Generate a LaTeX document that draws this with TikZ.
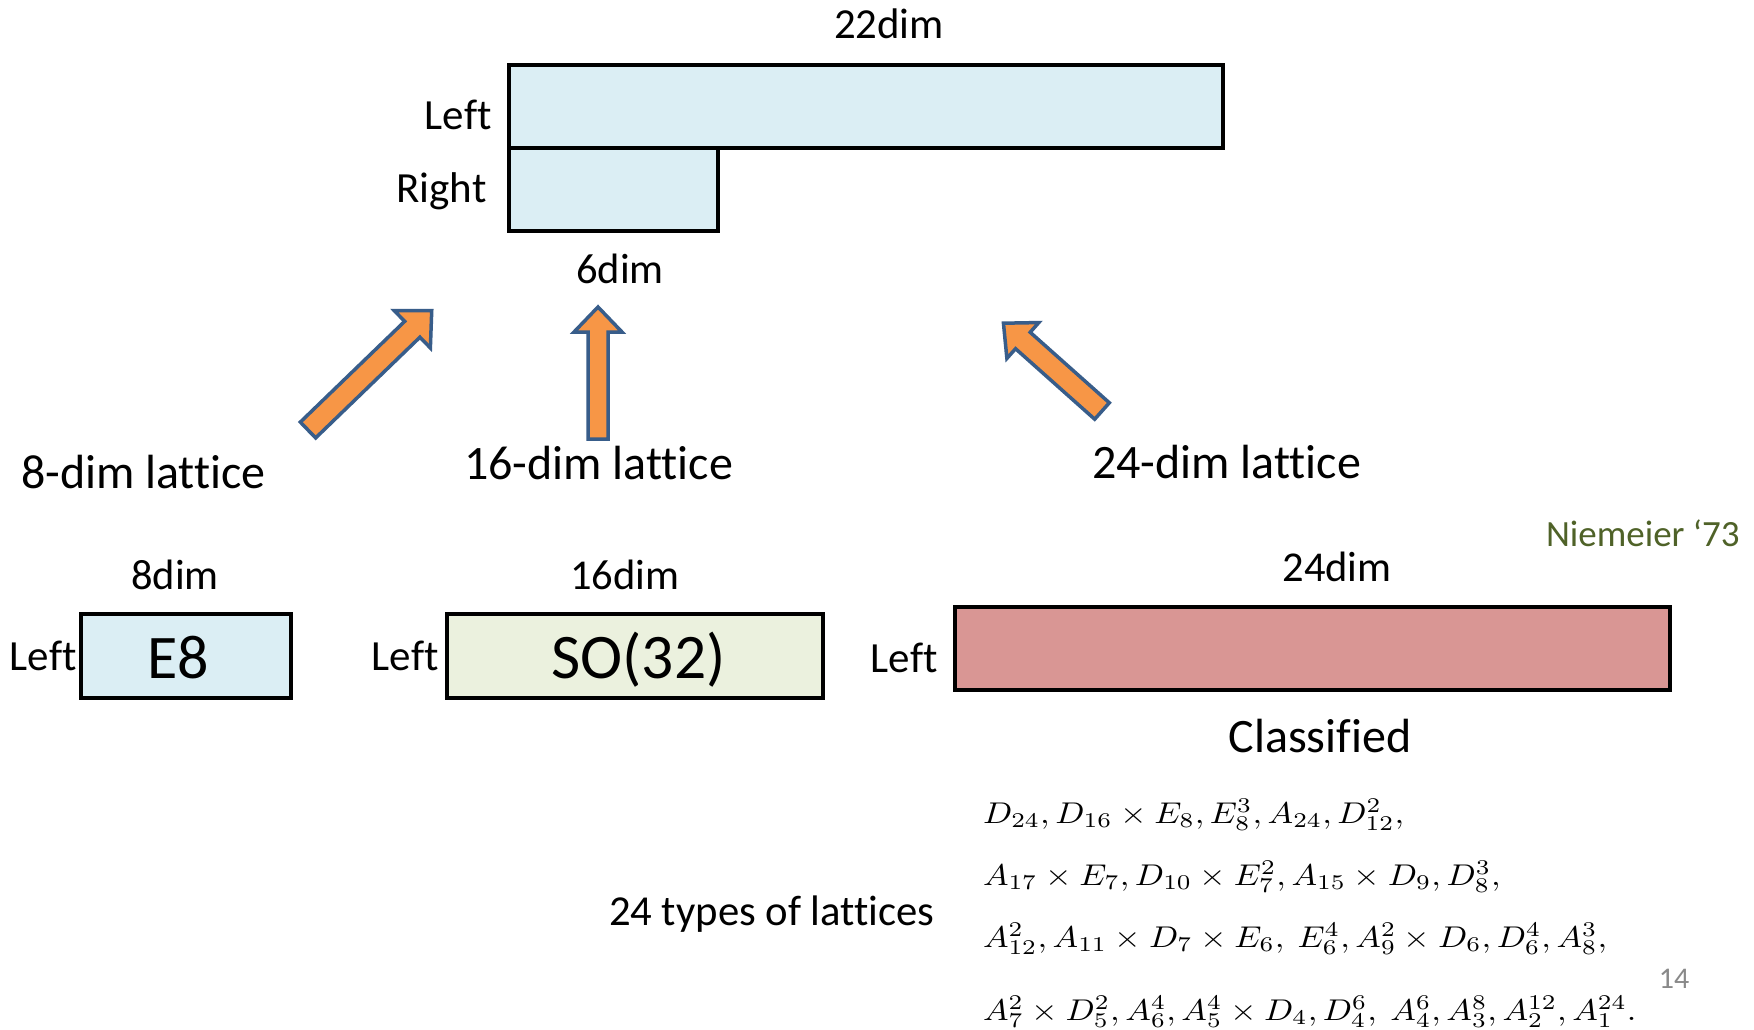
\documentclass[tikz,border=0pt]{standalone}
\usepackage[no-math]{fontspec}
\setmainfont{Carlito}[Ligatures={NoCommon}]
\usepackage{graphicx}
\definecolor{lblue}{RGB}{219,238,244}
\definecolor{lgreen}{RGB}{235,241,222}
\definecolor{lred}{RGB}{217,150,148}
\definecolor{arroworange}{RGB}{247,150,70}
\definecolor{arrowblue}{RGB}{56,93,138}
\definecolor{olivetext}{RGB}{79,98,40}
\definecolor{pagegray}{RGB}{137,137,137}
\newcommand\fs[1]{\fontsize{#1}{#1}\selectfont}
\newcommand\mathline[1]{\scalebox{3.415}[3.0]{\normalsize$#1$}}
\tikzset{
  box/.style={draw=black, line width=4.5pt, inner sep=0pt, outer sep=0pt, anchor=north west},
  lbl/.style={inner sep=0pt, outer sep=0pt, text=black},
  blockarrow/.style={draw=arrowblue, fill=arroworange, line width=3.5pt, line join=miter},
}
% #1,#2 tail centre, #3 angle, #4 length, #5 shaft half width, #6 head half width, #7 head length
\newcommand\myblockarrow[7]{%
  \draw[blockarrow, shift={(#1,#2)}, rotate=#3]
    (0,-#5) -- (#4-#7,-#5) -- (#4-#7,-#6) -- (#4,0) -- (#4-#7,#6) -- (#4-#7,#5) -- (0,#5) -- cycle;}
\begin{document}
\begin{tikzpicture}[x=1pt,y=-1pt]
\useasboundingbox[fill=white] (0,0) rectangle (1754,1030);

% top boxes
\node[box, fill=lblue, minimum width=209pt, minimum height=83pt] (rightbox) at (509,148) {};
\node[box, fill=lblue, minimum width=714pt, minimum height=83pt] (leftbox) at (509,65) {};
\node[lbl, font=\fs{42.8}, anchor=base] (d22) at (889,39) {22dim};
\node[lbl, font=\fs{43}, anchor=base east] (ltop) at (491.5,130) {Left};
\node[lbl, font=\fs{43}, anchor=base east] (rtop) at (486.5,202) {Right};
\node[lbl, font=\fs{42.5}, anchor=base] (d6) at (620,283) {6dim};

% block arrows
\myblockarrow{308}{430}{44}{172}{11}{26}{27}
\myblockarrow{598}{439}{90}{132}{10}{24}{25}
\myblockarrow{1102}{411}{138.3}{132}{11}{24}{26}

% lattice labels
\node[lbl, font=\fs{48}, anchor=base west] (l8) at (21,488) {8-dim lattice};
\node[lbl, font=\fs{48}, anchor=base west] (l16) at (464,479) {16-dim lattice};
\node[lbl, font=\fs{48}, anchor=base west] (l24) at (1092,478) {24-dim lattice};
\node[lbl, font=\fs{37}, text=olivetext, anchor=base west] (nie) at (1546,546) {Niemeier ‘73};

% bottom boxes
\node[lbl, font=\fs{42.5}, anchor=base] (d8) at (175,589) {8dim};
\node[lbl, font=\fs{42.5}, anchor=base] (d16) at (625,589) {16dim};
\node[lbl, font=\fs{42.5}, anchor=base] (d24) at (1337,581) {24dim};
\node[box, fill=lblue, minimum width=210pt, minimum height=84pt] (e8) at (81,614) {};
\node[lbl, font=\fs{62}, anchor=base] (e8t) at (178,678) {E8};
\node[box, fill=lgreen, minimum width=376pt, minimum height=84pt] (so) at (447,614) {};
\node[lbl, font=\fs{63.5}, anchor=base] (sot) at (638.5,678) {SO(32)};
\node[box, fill=lred, minimum width=715pt, minimum height=83pt] (b24) at (955,607) {};
\node[lbl, font=\fs{43}, anchor=base east] (le8) at (76.5,670) {Left};
\node[lbl, font=\fs{43}, anchor=base east] (lso) at (438.5,670) {Left};
\node[lbl, font=\fs{43}, anchor=base east] (l24b) at (937.5,672) {Left};
\node[lbl, font=\fs{48}, anchor=base] (cls) at (1320,752) {Classified};
\node[lbl, font=\fs{42.7}, anchor=base west] (types) at (609,925) {24 types of lattices};

% lattice list
\node[lbl, anchor=base west] (m1) at (983,823) {\mathline{D_{24}, D_{16}\times E_8, E_8^3, A_{24}, D_{12}^2,}};
\node[lbl, anchor=base west] (m2) at (983,885) {\mathline{A_{17}\times E_7, D_{10}\times E_7^2, A_{15}\times D_9, D_8^3,}};
\node[lbl, anchor=base west] (m3) at (983,947) {\mathline{A_{12}^2, A_{11}\times D_7\times E_6,\ E_6^4, A_9^2\times D_6, D_6^4, A_8^3,}};
\node[lbl, anchor=base west] (m4) at (983,1020) {\mathline{A_7^2\times D_5^2, A_6^4, A_5^4\times D_4, D_4^6,\ A_4^6, A_3^8, A_2^{12}, A_1^{24}.}};

\node[lbl, font=\fs{30}, text=pagegray, anchor=base] (pg) at (1674,988) {14};
\end{tikzpicture}
\end{document}
